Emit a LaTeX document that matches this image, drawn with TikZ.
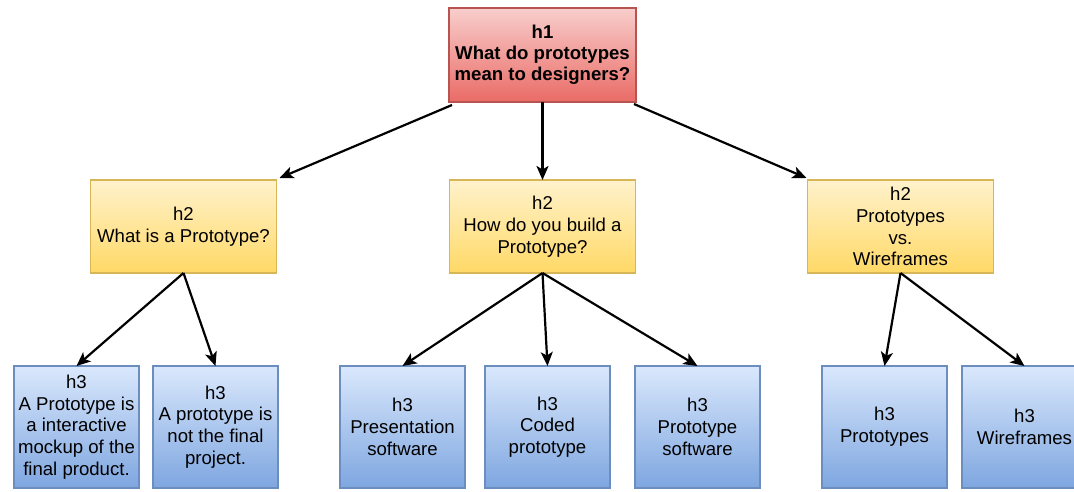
\documentclass[tikz,border=0pt]{standalone}
\usepackage{fontspec}
\setmainfont{Liberation Sans}
\usetikzlibrary{arrows.meta, positioning}

\definecolor{redtop}{HTML}{F8CECC}
\definecolor{redbot}{HTML}{EA6B66}
\definecolor{redline}{HTML}{B85450}
\definecolor{yeltop}{HTML}{FFF2CC}
\definecolor{yelbot}{HTML}{FFD966}
\definecolor{yelline}{HTML}{D6B656}
\definecolor{bluetop}{HTML}{DAE8FC}
\definecolor{bluebot}{HTML}{7EA6E0}
\definecolor{blueline}{HTML}{6C8EBF}

\begin{document}
\begin{tikzpicture}[
    x=1pt, y=1pt,
    box/.style={rectangle, line width=1.3pt, inner sep=0pt, outer sep=0pt, text centered, align=center,
        font=\fontsize{18.6}{21.7}\selectfont},
    topic/.style={box, draw=redline, top color=redtop, bottom color=redbot,
        minimum width=187pt, minimum height=94pt, font=\fontsize{18.6}{21}\selectfont\bfseries},
    section/.style={box, draw=yelline, top color=yeltop, bottom color=yelbot,
        minimum width=186pt, minimum height=93pt},
    detail/.style={box, draw=blueline, top color=bluetop, bottom color=bluebot,
        minimum width=125pt, minimum height=122pt},
    arrow/.style={line width=2.2pt, -{Stealth[length=14pt, width=12pt, inset=3.5pt]}}
]
\useasboundingbox (0,0) rectangle (1074,-491);

% Main question
\node[topic] (h1) at (542.5,-55) {h1\\What do prototypes\\mean to designers?};

% Second level
\node[section, below=78pt of h1] (build) {h2\\How do you build a\\Prototype?};
\node[section, left=173pt of build] (what) {h2\\What is a Prototype?};
\node[section, right=172pt of build] (versus) {h2\\Prototypes\\vs.\\Wireframes};

% Third level
\node[detail, below=93pt of build, xshift=5pt] (coded) {h3\\Coded\\prototype};
\node[detail, left=20pt of coded] (present) {h3\\Presentation\\software};
\node[detail, right=25pt of coded] (protosw) {h3\\Prototype\\software};
\node[detail, left=62pt of present] (notfinal) {h3\\A prototype is\\not the final\\project.};
\node[detail, left=14pt of notfinal] (mockup) {h3\\A Prototype is\\a interactive\\mockup of the\\final product.};
\node[detail, right=62pt of protosw] (protos) {h3\\Prototypes};
\node[detail, right=15pt of protos] (wires) {h3\\Wireframes};

% Arrows
\draw[arrow] ([shift={(3,-3)}]h1.south west) -- ([shift={(3,2)}]what.north east);
\draw[arrow] (h1.south) -- (build.north);
\draw[arrow] ([shift={(-2,-2)}]h1.south east) -- ([shift={(-1,2)}]versus.north west);
\draw[arrow] (what.south) -- (mockup.north);
\draw[arrow] (what.south) -- (notfinal.north);
\draw[arrow] (build.south) -- (present.north);
\draw[arrow] (build.south) -- (coded.north);
\draw[arrow] (build.south) -- (protosw.north);
\draw[arrow] (versus.south) -- (protos.north);
\draw[arrow] (versus.south) -- (wires.north);

\end{tikzpicture}
\end{document}
